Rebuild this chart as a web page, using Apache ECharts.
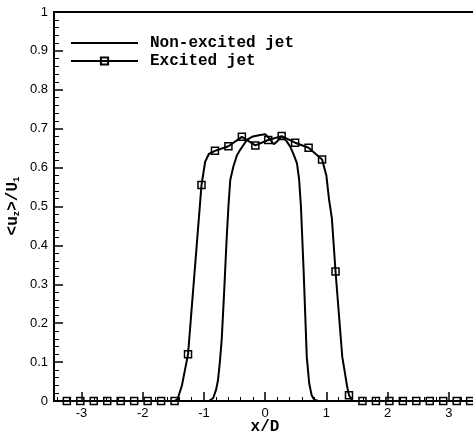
<!DOCTYPE html>
<html>
<head>
<meta charset="utf-8">
<script src="https://cdn.jsdelivr.net/npm/echarts@6/dist/echarts.min.js"></script>
<style>html,body{margin:0;padding:0;background:#fff;}#c{width:473px;height:436px;}</style>
</head>
<body>
<div id="c"></div>
<script>
// ---- data ----
var xTicks = [-3, -2, -1, 0, 1, 2, 3];
var yTicks = [0, 0.1, 0.2, 0.3, 0.4, 0.5, 0.6, 0.7, 0.8, 0.9, 1];
var xTitle = 'x/D';
var yTitle = '<u{s|z}>/U{s|1}';

// Non-excited jet curve
var nxX = [-3.45, -0.92, -0.85, -0.8, -0.77, -0.74, -0.71, -0.67, -0.63, -0.6, -0.57, -0.52, -0.46, -0.41, -0.3, -0.2, -0.08, 0.0, 0.07, 0.14, 0.2, 0.27, 0.35, 0.41, 0.47, 0.52, 0.555, 0.585, 0.63, 0.68, 0.72, 0.76, 0.8, 0.86, 3.42];
var nxY = [0, 0, 0.007, 0.03, 0.054, 0.1, 0.157, 0.28, 0.414, 0.5, 0.568, 0.602, 0.632, 0.645, 0.671, 0.68, 0.684, 0.686, 0.675, 0.66, 0.668, 0.68, 0.668, 0.654, 0.632, 0.611, 0.57, 0.5, 0.33, 0.114, 0.045, 0.015, 0.004, 0, 0];

// Excited jet: marker points
var mkX = [-3.46, -3.24, -3.02, -2.80, -2.58, -2.36, -2.14, -1.92, -1.70, -1.48, -1.26, -1.04, -0.82, -0.60, -0.38, -0.16, 0.05, 0.27, 0.49, 0.71, 0.93, 1.15, 1.37, 1.59, 1.81, 2.03, 2.25, 2.47, 2.69, 2.91, 3.13, 3.35];
var mkY = [0, 0, 0, 0, 0, 0, 0, 0, 0, 0, 0.12, 0.555, 0.643, 0.655, 0.679, 0.657, 0.671, 0.681, 0.664, 0.651, 0.621, 0.333, 0.015, 0, 0, 0, 0, 0, 0, 0, 0, 0];
// Excited jet: additional curve points between markers
var exExtraX = [-1.43, -1.36, -1.31, -0.98, -0.92, 1.0, 1.045, 1.09, 1.26, 1.34, 1.43];
var exExtraY = [0.005, 0.04, 0.08, 0.615, 0.635, 0.58, 0.517, 0.47, 0.114, 0.037, 0];

// ---- build ----
var nxData = nxX.map(function (x, i) { return [x, nxY[i]]; });
var exPts = [];
mkX.forEach(function (x, i) { exPts.push({ value: [x, mkY[i]] }); });
exExtraX.forEach(function (x, i) { exPts.push({ value: [x, exExtraY[i]], symbol: 'none' }); });
exPts.sort(function (a, b) { return a.value[0] - b.value[0]; });

var minorX = [];
for (var k = -17; k <= 17; k++) { if (k % 5 !== 0) minorX.push(+(k * 0.2).toFixed(2)); }

var XMIN = -3.45, XMAX = 3.429;

var chart = echarts.init(document.getElementById('c'));
chart.setOption({
  animation: false,
  grid: { left: 54, top: 12, bottom: 35, right: -2, outerBoundsMode: 'none',
          show: true, borderColor: '#000', borderWidth: 2 },
  legend: {
    orient: 'vertical', left: 70, top: 35, itemGap: 2, padding: 0,
    itemWidth: 67, itemHeight: 9,
    textStyle: { color: '#000', fontFamily: 'Liberation Mono', fontWeight: 'bold', fontSize: 16, padding: [0, 0, 0, 7] },
    data: [{ name: 'Non-excited jet', itemStyle: { opacity: 0 } }, { name: 'Excited jet' }]
  },
  graphic: [{
    type: 'text', x: 265, y: 427,
    style: { text: xTitle, fill: '#000', fontFamily: 'Liberation Mono', fontWeight: 'bold', fontSize: 16, align: 'center', verticalAlign: 'middle' }
  }, {
    type: 'text', x: 13, y: 206, rotation: Math.PI / 2,
    style: {
      text: yTitle, fill: '#000', fontFamily: 'Liberation Mono', fontWeight: 'bold', fontSize: 16, align: 'center', verticalAlign: 'middle',
      rich: { s: { fontFamily: 'Liberation Mono', fontWeight: 'bold', fontSize: 9, fill: '#000', verticalAlign: 'bottom', padding: [6, 0, 0, 0] } }
    }
  }],
  xAxis: [{
    type: 'value', min: XMIN, max: XMAX,
    axisLine: { show: true, onZero: false, lineStyle: { color: '#000', width: 2 } },
    axisTick: { show: true, inside: true, length: 9, customValues: xTicks, lineStyle: { color: '#000', width: 1.5 } },
    axisLabel: { customValues: xTicks, margin: 6, color: '#000', fontFamily: 'Liberation Sans', fontSize: 13 },
    splitLine: { show: false }
  }, {
    type: 'value', min: XMIN, max: XMAX, position: 'bottom',
    axisLine: { show: false, onZero: false },
    axisTick: { show: true, inside: true, length: 4, customValues: minorX, lineStyle: { color: '#000', width: 1 } },
    axisLabel: { show: false },
    splitLine: { show: false }
  }],
  yAxis: {
    type: 'value', min: 0, max: 1, interval: 0.1,
    axisLine: { show: true, onZero: false, lineStyle: { color: '#000', width: 2 } },
    axisTick: { show: true, inside: true, length: 9, lineStyle: { color: '#000', width: 1.5 } },
    minorTick: { show: true, splitNumber: 5, length: 5, lineStyle: { color: '#000', width: 1 } },
    axisLabel: { margin: 6, color: '#000', fontFamily: 'Liberation Sans', fontSize: 13 },
    splitLine: { show: false }
  },
  series: [{
    name: 'Non-excited jet', type: 'line', data: nxData, symbol: 'none',
    lineStyle: { color: '#000', width: 2 }, itemStyle: { color: '#000' }
  }, {
    name: 'Excited jet', type: 'line', data: exPts, symbol: 'rect', symbolSize: 7, showAllSymbol: true,
    lineStyle: { color: '#000', width: 2 },
    itemStyle: { color: 'rgba(255,255,255,0)', borderColor: '#000', borderWidth: 1.5 }
  }]
});
</script>
</body>
</html>
